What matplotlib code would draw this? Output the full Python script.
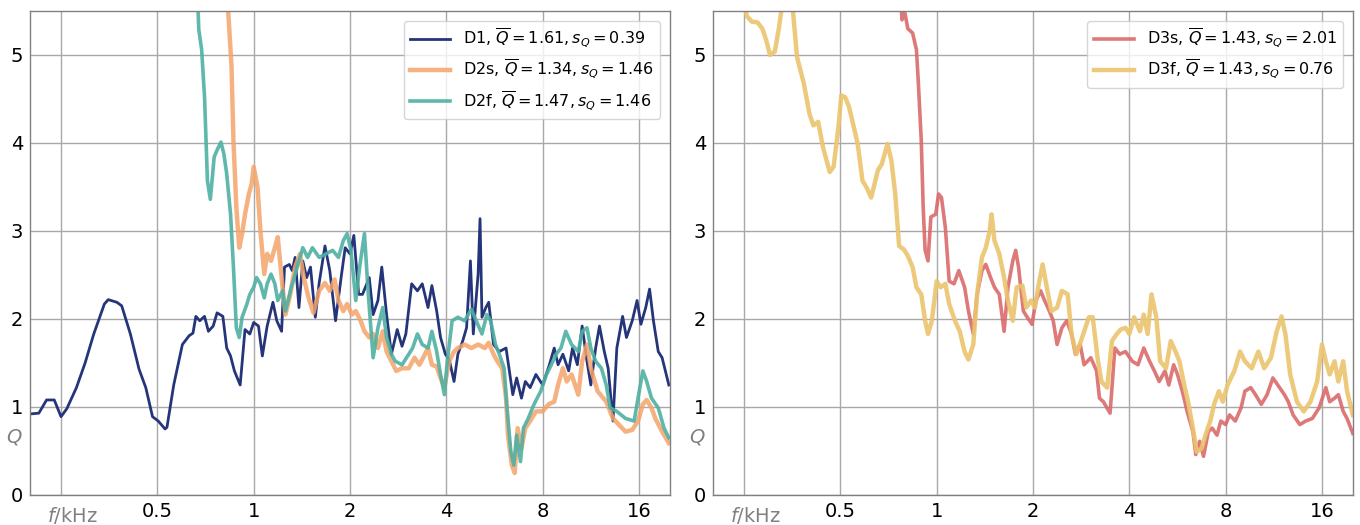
import matplotlib
matplotlib.use("Agg")
import matplotlib.pyplot as plt
import numpy as np

# frequencies as octaves relative to 1 kHz, Q values
d1_oct = [-2.33, -2.23, -2.15, -2.07, -2.00, -1.94, -1.84, -1.75, -1.66, -1.55, -1.51, -1.42, -1.37,
          -1.28, -1.19, -1.12, -1.05, -0.99, -0.92, -0.90, -0.83, -0.74, -0.67, -0.63, -0.60, -0.56,
          -0.51, -0.47, -0.42, -0.38, -0.32, -0.28, -0.24, -0.20, -0.14, -0.09, -0.04, 0.00, 0.05,
          0.09, 0.14, 0.20, 0.24, 0.29, 0.32, 0.37, 0.40, 0.43, 0.47, 0.51, 0.55, 0.59, 0.64, 0.68,
          0.74, 0.79, 0.85, 0.91, 0.95, 1.00, 1.04, 1.09, 1.13, 1.20, 1.24, 1.29, 1.33, 1.38, 1.43,
          1.49, 1.54, 1.58, 1.64, 1.70, 1.75, 1.81, 1.85, 1.90, 1.94, 1.99, 2.03, 2.08, 2.12, 2.17,
          2.21, 2.25, 2.28, 2.33, 2.35, 2.37, 2.41, 2.44, 2.49, 2.55, 2.62, 2.69, 2.73, 2.78, 2.82,
          2.87, 2.93, 3.00, 3.07, 3.12, 3.16, 3.21, 3.27, 3.31, 3.36, 3.41, 3.46, 3.50, 3.55, 3.59,
          3.64, 3.68, 3.73, 3.77, 3.83, 3.87, 3.93, 3.98, 4.02, 4.07, 4.11, 4.15, 4.20, 4.24, 4.31]
d1_q = [0.92, 0.93, 1.08, 1.08, 0.89, 0.98, 1.22, 1.50, 1.83, 2.17, 2.22, 2.19, 2.15,
        1.83, 1.43, 1.22, 0.89, 0.84, 0.75, 0.77, 1.25, 1.71, 1.81, 1.84, 2.03, 1.98,
        2.03, 1.86, 1.92, 2.07, 2.03, 1.67, 1.58, 1.41, 1.25, 1.88, 1.83, 1.96, 1.92,
        1.58, 1.92, 2.19, 1.98, 1.86, 2.59, 2.62, 2.55, 2.70, 2.13, 2.66, 2.47, 2.59, 2.02, 2.41,
        2.83, 2.55, 1.98, 2.49, 2.81, 2.74, 2.95, 2.28, 2.28, 2.47, 2.05, 2.21, 2.59, 2.05, 1.60,
        1.88, 1.69, 1.83, 2.40, 2.32, 2.40, 2.13, 2.38, 2.09, 1.79, 1.60, 1.54, 1.29, 1.60, 1.75,
        1.90, 2.66, 1.83, 2.51, 3.14, 2.02, 2.13, 2.19, 1.71, 1.63, 1.67, 1.14, 1.33, 1.10, 1.29,
        1.22, 1.37, 1.25, 1.48, 1.67, 1.48, 1.60, 1.41, 1.67, 1.48, 1.92, 1.52, 1.25, 1.67, 1.92,
        1.63, 1.44, 0.84, 1.67, 2.03, 1.79, 1.98, 2.21, 1.94, 2.13, 2.34, 1.98, 1.63, 1.56, 1.25]

d2s_oct = [-0.27, -0.23, -0.21, -0.18, -0.15, -0.12, -0.09, -0.05, -0.02, 0.00, 0.04, 0.07, 0.11,
           0.14, 0.18, 0.22, 0.25, 0.30, 0.33, 0.38, 0.43, 0.48, 0.52, 0.57, 0.62, 0.68, 0.74, 0.79,
           0.84, 0.88, 0.93, 0.97, 1.02, 1.06, 1.11, 1.15, 1.20, 1.24, 1.29, 1.34, 1.38, 1.43, 1.48,
           1.54, 1.61, 1.67, 1.72, 1.76, 1.81, 1.85, 1.90, 1.94, 1.98, 2.03, 2.08, 2.12, 2.19, 2.26,
           2.33, 2.40, 2.44, 2.49, 2.53, 2.58, 2.62, 2.64, 2.68, 2.71, 2.74, 2.78, 2.82, 2.87, 2.93,
           3.00, 3.06, 3.12, 3.16, 3.21, 3.25, 3.30, 3.37, 3.41, 3.46, 3.50, 3.57, 3.66, 3.73, 3.79,
           3.86, 3.93, 3.99, 4.04, 4.08, 4.13, 4.17, 4.24, 4.31]
d2s_q = [5.60, 4.87, 4.03, 3.27, 2.81, 2.97, 3.19, 3.42, 3.54, 3.73, 3.50, 3.00, 2.51,
         2.74, 2.66, 2.81, 2.93, 2.36, 2.05, 2.28, 2.59, 2.74, 2.47, 2.24, 2.07, 2.32, 2.41, 2.32,
         2.45, 2.21, 2.09, 2.17, 2.05, 2.09, 1.98, 1.86, 1.79, 1.83, 1.67, 1.86, 1.63, 1.52, 1.41,
         1.44, 1.44, 1.56, 1.48, 1.56, 1.67, 1.48, 1.46, 1.33, 1.22, 1.52, 1.63, 1.67, 1.71, 1.67,
         1.71, 1.67, 1.73, 1.60, 1.52, 1.44, 1.10, 0.68, 0.34, 0.25, 0.76, 0.53, 0.76, 0.84, 0.95,
         0.95, 1.03, 1.06, 1.25, 1.44, 1.29, 1.37, 1.14, 1.52, 1.71, 1.44, 1.18, 1.06, 0.87, 0.80,
         0.72, 0.74, 0.84, 1.03, 1.08, 0.99, 0.87, 0.72, 0.59]

d2f_oct = [-0.58, -0.57, -0.54, -0.51, -0.48, -0.45, -0.41, -0.38, -0.34, -0.31, -0.28, -0.24, -0.21,
           -0.18, -0.15, -0.12, -0.07, -0.04, 0.00, 0.03, 0.07, 0.11, 0.14, 0.18, 0.22, 0.25, 0.30,
           0.33, 0.39, 0.46, 0.51, 0.56, 0.61, 0.68, 0.75, 0.82, 0.88, 0.93, 0.97, 1.01, 1.06, 1.10,
           1.15, 1.19, 1.24, 1.29, 1.34, 1.38, 1.43, 1.47, 1.54, 1.61, 1.65, 1.70, 1.75, 1.81, 1.85,
           1.90, 1.94, 1.98, 2.01, 2.06, 2.12, 2.19, 2.26, 2.31, 2.37, 2.42, 2.46, 2.51, 2.55, 2.60,
           2.63, 2.67, 2.70, 2.73, 2.77, 2.80, 2.85, 2.91, 2.98, 3.04, 3.09, 3.14, 3.19, 3.24, 3.30,
           3.37, 3.41, 3.46, 3.50, 3.55, 3.61, 3.66, 3.70, 3.77, 3.86, 3.95, 3.99, 4.04, 4.08, 4.13,
           4.20, 4.26, 4.31]
d2f_q = [5.60, 5.29, 5.06, 4.52, 3.57, 3.36, 3.84, 3.92, 4.01, 3.88, 3.65, 3.19, 2.59,
         1.90, 1.79, 2.02, 2.17, 2.28, 2.36, 2.47, 2.40, 2.24, 2.40, 2.51, 2.40, 2.21, 2.32,
         2.09, 2.36, 2.62, 2.81, 2.70, 2.81, 2.70, 2.74, 2.78, 2.70, 2.89, 2.97, 2.78, 2.21, 2.59,
         2.97, 2.28, 1.56, 1.90, 2.13, 1.79, 1.60, 1.52, 1.48, 1.60, 1.67, 1.83, 1.71, 1.67, 1.86,
         1.63, 1.37, 1.14, 1.52, 1.98, 2.02, 1.98, 2.11, 1.98, 1.83, 2.05, 1.98, 1.71, 1.60, 1.44,
         0.99, 0.49, 0.34, 0.68, 0.38, 0.76, 0.87, 1.03, 1.18, 1.37, 1.48, 1.60, 1.67, 1.86, 1.71,
         1.63, 1.86, 1.90, 1.67, 1.52, 1.44, 1.25, 0.99, 0.95, 0.87, 0.84, 1.10, 1.41, 1.29, 1.10,
         0.99, 0.76, 0.65]

d3s_oct = [-0.37, -0.36, -0.33, -0.30, -0.25, -0.21, -0.19, -0.16, -0.14, -0.12, -0.09, -0.06, -0.01,
           0.02, 0.05, 0.09, 0.13, 0.18, 0.23, 0.29, 0.33, 0.38, 0.42, 0.47, 0.51, 0.56, 0.60, 0.65,
           0.70, 0.74, 0.79, 0.82, 0.85, 0.90, 0.94, 0.99, 1.03, 1.08, 1.12, 1.17, 1.21, 1.25, 1.30,
           1.35, 1.40, 1.44, 1.49, 1.53, 1.60, 1.66, 1.69, 1.73, 1.80, 1.85, 1.90, 1.96, 2.03, 2.09,
           2.15, 2.21, 2.26, 2.31, 2.37, 2.41, 2.46, 2.50, 2.55, 2.60, 2.66, 2.69, 2.73, 2.77, 2.82,
           2.86, 2.91, 2.95, 3.00, 3.04, 3.10, 3.16, 3.20, 3.26, 3.31, 3.37, 3.43, 3.49, 3.56, 3.61,
           3.65, 3.70, 3.77, 3.83, 3.90, 3.97, 4.04, 4.08, 4.13, 4.17, 4.22, 4.26, 4.32]
d3s_q = [5.60, 5.40, 5.48, 5.30, 5.25, 5.06, 4.68, 4.03, 3.27, 2.78, 2.66, 3.16, 3.19,
         3.42, 3.38, 3.04, 2.43, 2.40, 2.55, 2.36, 2.09, 1.83, 2.28, 2.55, 2.62, 2.47, 2.36, 2.28,
         1.86, 2.36, 2.66, 2.78, 2.59, 2.09, 2.02, 1.94, 2.21, 2.32, 2.21, 2.09, 1.98, 1.71, 1.90,
         1.98, 1.83, 1.60, 1.71, 1.48, 1.56, 1.41, 1.10, 1.06, 0.93, 1.67, 1.60, 1.63, 1.52, 1.48,
         1.67, 1.52, 1.41, 1.29, 1.41, 1.25, 1.48, 1.37, 1.18, 0.95, 0.72, 0.46, 0.61, 0.44, 0.72,
         0.76, 0.68, 0.84, 0.80, 0.91, 0.84, 0.99, 1.18, 1.22, 1.14, 1.03, 1.14, 1.33, 1.22, 1.14,
         1.06, 0.91, 0.80, 0.84, 0.87, 0.99, 1.22, 1.06, 1.10, 1.14, 0.95, 0.87, 0.70]

d3f_oct = [-2.00, -1.97, -1.92, -1.86, -1.81, -1.77, -1.73, -1.68, -1.64, -1.60, -1.50, -1.45, -1.38,
           -1.32, -1.28, -1.23, -1.18, -1.11, -1.07, -1.02, -0.99, -0.95, -0.91, -0.86, -0.82, -0.77,
           -0.73, -0.68, -0.61, -0.57, -0.51, -0.47, -0.43, -0.39, -0.34, -0.30, -0.25, -0.21, -0.16,
           -0.12, -0.09, -0.05, 0.00, 0.04, 0.09, 0.13, 0.19, 0.24, 0.29, 0.33, 0.38, 0.42, 0.47,
           0.51, 0.55, 0.57, 0.60, 0.65, 0.70, 0.74, 0.79, 0.83, 0.89, 0.93, 0.98, 1.02, 1.06, 1.10,
           1.15, 1.19, 1.25, 1.30, 1.36, 1.40, 1.45, 1.51, 1.58, 1.62, 1.67, 1.71, 1.77, 1.82, 1.87,
           1.91, 1.96, 2.00, 2.05, 2.11, 2.15, 2.19, 2.23, 2.28, 2.32, 2.38, 2.43, 2.48, 2.52, 2.57,
           2.61, 2.66, 2.70, 2.75, 2.79, 2.84, 2.88, 2.93, 2.97, 3.02, 3.09, 3.15, 3.20, 3.27, 3.34,
           3.40, 3.47, 3.53, 3.58, 3.62, 3.67, 3.74, 3.81, 3.88, 3.95, 4.00, 4.04, 4.08, 4.13, 4.17,
           4.22, 4.26, 4.32]
d3f_q = [5.60, 5.44, 5.38, 5.37, 5.30, 5.17, 5.00, 5.04, 5.29, 5.60, 5.60, 4.98, 4.68,
         4.33, 4.20, 4.24, 3.95, 3.67, 3.73, 4.18, 4.54, 4.52, 4.41, 4.18, 3.99, 3.57,
         3.50, 3.38, 3.69, 3.76, 3.99, 3.80, 3.42, 2.83, 2.79, 2.72, 2.59, 2.36, 2.28,
         1.98, 1.83, 1.98, 2.43, 2.36, 2.40, 2.17, 1.98, 1.86, 1.63, 1.54, 1.71, 2.28, 2.70,
         2.81, 3.00, 3.19, 2.89, 2.74, 2.47, 2.21, 1.98, 2.36, 2.38, 2.13, 2.21, 2.13, 2.40, 2.62,
         2.32, 2.09, 2.13, 2.32, 2.28, 1.83, 1.60, 1.79, 2.02, 2.02, 1.56, 1.29, 1.22, 1.75, 1.83,
         1.88, 1.90, 1.83, 2.02, 1.86, 2.05, 1.83, 2.28, 2.02, 1.52, 1.44, 1.75, 1.63, 1.52, 1.25,
         1.06, 0.76, 0.49, 0.53, 0.68, 0.84, 1.03, 1.18, 1.06, 1.25, 1.41, 1.63, 1.52, 1.44, 1.63,
         1.44, 1.56, 1.86, 2.03, 1.83, 1.37, 1.06, 0.95, 1.06, 1.29, 1.71, 1.52, 1.37, 1.52, 1.29,
         1.52, 1.18, 0.91]

left_series = [
    ("D1", d1_oct, d1_q, 1.61, 0.39, "#25357a", 2.0, 1.0),
    ("D2s", d2s_oct, d2s_q, 1.34, 1.46, "#f4a46a", 3.2, 0.85),
    ("D2f", d2f_oct, d2f_q, 1.47, 1.46, "#4fb0a2", 2.6, 0.9),
]
right_series = [
    ("D3s", d3s_oct, d3s_q, 1.43, 2.01, "#db6a6c", 2.6, 0.9),
    ("D3f", d3f_oct, d3f_q, 1.43, 0.76, "#ebc46e", 3.2, 0.9),
]

x_ticks = [0.25, 0.5, 1, 2, 4, 8, 16]
x_ticklabels = ["", "0.5", "1", "2", "4", "8", "16"]
y_ticks = [0, 1, 2, 3, 4, 5]

fig = plt.figure(figsize=(13.6, 5.25), dpi=100)
ax_l = fig.add_axes([30 / 1360, 30 / 525, 640 / 1360, 484 / 525])
ax_r = fig.add_axes([713 / 1360, 30 / 525, 640 / 1360, 484 / 525])

for ax, series in [(ax_l, left_series), (ax_r, right_series)]:
    for name, octs, q, qmean, sq, color, lw, alpha in series:
        f = 2.0 ** np.array(octs)
        label = name + r", $\overline{Q} = %.2f, s_Q = %.2f$" % (qmean, sq)
        ax.plot(f, q, color=color, lw=lw, alpha=alpha, label=label)

    ax.set_xscale("log", base=2)
    ax.set_xlim(0.2, 20)
    ax.set_ylim(0, 5.5)
    ax.set_xticks(x_ticks)
    ax.set_xticklabels(x_ticklabels)
    ax.minorticks_off()
    ax.set_yticks(y_ticks)
    ax.tick_params(length=0, labelsize=14, pad=5)
    ax.grid(True, color="#a8a8a8", lw=1.0)
    ax.set_axisbelow(True)
    for sp in ax.spines.values():
        sp.set_color("#808080")
        sp.set_linewidth(1.0)

    # axis names placed as grey tick-like labels
    ax.text(0.272, -0.02, r"$f$/kHz", transform=ax.get_xaxis_transform(),
            ha="center", va="top", fontsize=14, color="#808080")
    ax.text(-0.012, 0.66, r"$Q$", transform=ax.get_yaxis_transform(),
            ha="right", va="center", fontsize=14, color="#808080")

    ax.legend(loc="upper right", fontsize=11.5, handlelength=2.5,
              borderaxespad=0.6, framealpha=0.8)

fig.savefig("out.png", dpi=100)
